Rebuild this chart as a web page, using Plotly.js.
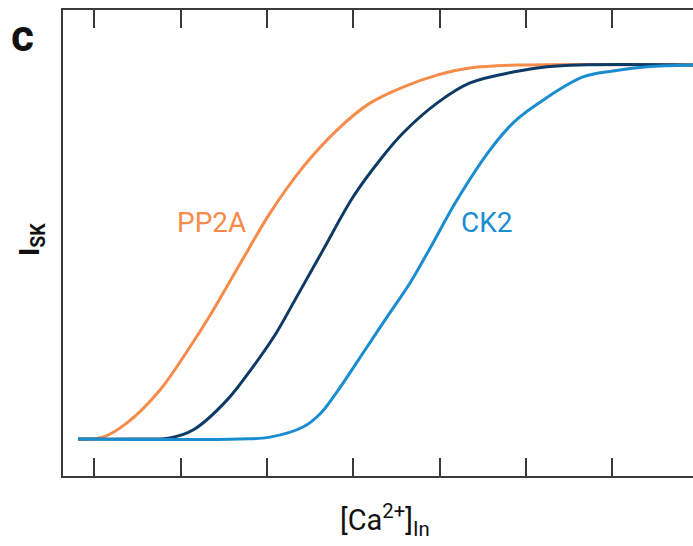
<!DOCTYPE html>
<html>
<head>
<meta charset="utf-8">
<script src="https://cdn.plot.ly/plotly-3.0.1.min.js"></script>
<style>html,body{margin:0;padding:0;background:#fff;}#chart{width:693px;height:546px;}</style>
</head>
<body>
<div id="chart"></div>
<script>
// [Ca2+]in (arbitrary units) and I_SK (normalized)
const ppX = [0.811, 1.101, 1.379, 1.761, 2.085, 2.329, 2.560, 2.780, 3.035, 3.417, 3.811, 4.193, 4.576, 4.970, 5.352, 5.931, 7.935];
const ppY = [0, 0.005, 0.043, 0.131, 0.238, 0.326, 0.417, 0.505, 0.604, 0.727, 0.826, 0.898, 0.941, 0.973, 0.992, 1.0, 1.0];

const ctrlX = [0.811, 1.413, 1.877, 2.143, 2.537, 2.838, 3.093, 3.325, 3.649, 3.997, 4.309, 4.576, 4.970, 5.352, 5.850, 6.244, 6.626, 7.935];
const ctrlY = [0, 0, 0.003, 0.024, 0.104, 0.193, 0.278, 0.372, 0.505, 0.647, 0.746, 0.818, 0.898, 0.952, 0.981, 0.995, 1.0, 1.0];

const ckX = [0.811, 2.688, 3.035, 3.417, 3.614, 3.811, 4.136, 4.390, 4.657, 4.877, 5.201, 5.584, 5.873, 6.197, 6.661, 7.008, 7.402, 7.935];
const ckY = [0, 0, 0.005, 0.032, 0.067, 0.126, 0.238, 0.326, 0.417, 0.505, 0.639, 0.773, 0.850, 0.906, 0.968, 0.984, 0.995, 1.0];

const xTicks = [1, 2, 3, 4, 5, 6, 7];
const labelPP = "PP2A";
const labelCK = "CK2";

const lineStyle = (c) => ({color: c, width: 3, shape: 'spline', smoothing: 1});
const traces = [
  {x: ppX, y: ppY, mode: 'lines', line: lineStyle('#F68B4A'), hoverinfo: 'skip'},
  {x: ctrlX, y: ctrlY, mode: 'lines', line: lineStyle('#0D3B66'), hoverinfo: 'skip'},
  {x: ckX, y: ckY, mode: 'lines', line: lineStyle('#1A8CD0'), hoverinfo: 'skip'}
];

const FONT = 'Roboto, "Open Sans", sans-serif';
const px = (p) => (p - 63) / 630;
const py = (p) => (476 - p) / 466;
const layout = {
  width: 693, height: 546,
  margin: {l: 63, r: 0, t: 10, b: 70},
  paper_bgcolor: '#fff', plot_bgcolor: '#fff',
  showlegend: false,
  xaxis: {
    range: [0.6374, 7.935], tickvals: xTicks, showticklabels: false,
    ticks: 'inside', ticklen: 18, tickwidth: 2, tickcolor: '#3a3a3a',
    showline: true, linewidth: 2, linecolor: '#3a3a3a', mirror: 'ticks',
    showgrid: false, zeroline: false
  },
  yaxis: {
    range: [-0.0989, 1.147], showticklabels: false, ticks: '',
    showline: true, linewidth: 2, linecolor: '#3a3a3a', mirror: false,
    showgrid: false, zeroline: false
  },
  annotations: [
    {x: 2.352, y: 0.58, xref: 'x', yref: 'y', text: labelPP, showarrow: false,
     xanchor: 'center', yanchor: 'middle',
     font: {family: FONT, size: 28, color: '#F68B4A'}},
    {x: 5.549, y: 0.58, xref: 'x', yref: 'y', text: labelCK, showarrow: false,
     xanchor: 'center', yanchor: 'middle',
     font: {family: FONT, size: 28, color: '#1A8CD0'}},
    {x: px(22), y: py(36), xref: 'paper', yref: 'paper', text: '<b>c</b>', showarrow: false,
     xanchor: 'center', yanchor: 'middle',
     font: {family: FONT, size: 44, color: '#111'}},
    {x: px(31), y: py(240), xref: 'paper', yref: 'paper', text: '<b>I<sub>SK</sub></b>', showarrow: false,
     xanchor: 'center', yanchor: 'middle',
     textangle: -90, font: {family: FONT, size: 28, color: '#111'}},
    {x: px(385), y: py(520), xref: 'paper', yref: 'paper', text: '[Ca<sup>2+</sup>]<sub>In</sub>', showarrow: false,
     xanchor: 'center', yanchor: 'middle',
     font: {family: FONT, size: 29, color: '#111'}}
  ]
};

Plotly.newPlot('chart', traces, layout, {staticPlot: true, displayModeBar: false});
</script>
</body>
</html>
